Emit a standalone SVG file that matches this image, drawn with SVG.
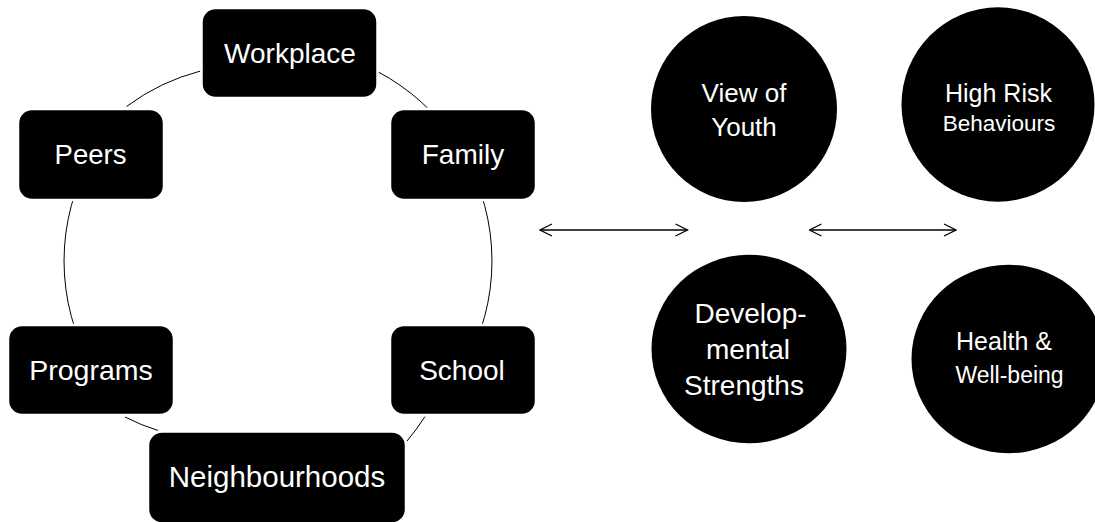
<svg xmlns="http://www.w3.org/2000/svg" width="1095" height="522" viewBox="0 0 1095 522">
<defs>
<style>
.box{fill:#000;stroke:#fff;stroke-width:2.5}
.blob{fill:#000}
.t{fill:#fff;font-family:"Liberation Sans",Arial,sans-serif;text-anchor:middle}
.ring{fill:none;stroke:#000;stroke-width:1}
.arr{fill:none;stroke:#000;stroke-width:1.3;marker-start:url(#ah);marker-end:url(#ah)}
</style>
<marker id="ah" viewBox="-13 -7 14 14" refX="0" refY="0" markerWidth="14" markerHeight="14" markerUnits="userSpaceOnUse" orient="auto-start-reverse">
<path d="M-12,-6 L0,0 L-12,6" fill="none" stroke="#000" stroke-width="1.3"/>
</marker>
</defs>
<rect width="1095" height="522" fill="#fff"/>
<g id="connectors">
<path class="ring" d="M289.2,47.3 A214,214 0 0 1 463.3,154"/>
<path class="ring" d="M463.3,154 A214,214 0 0 1 463.3,368"/>
<path class="ring" d="M425,416.5 A214,214 0 0 1 407,441"/>
<path class="ring" d="M158,430.5 A214,214 0 0 1 125,417"/>
<path class="ring" d="M92.7,368 A214,214 0 0 1 92.7,154"/>
<path class="ring" d="M126.5,106.5 A214,214 0 0 1 200.5,71"/>
<line class="arr" x1="540" y1="230" x2="687.5" y2="230"/>
<line class="arr" x1="809.5" y1="230" x2="956" y2="230"/>
</g>
<g id="workplace"><rect class="box" x="201.5" y="8" width="176" height="90" rx="14"/><text class="t" x="290" y="63" font-size="28">Workplace</text></g>
<g id="family"><rect class="box" x="390" y="109" width="146" height="91" rx="14"/><text class="t" x="463" y="163.5" font-size="28">Family</text></g>
<g id="school"><rect class="box" x="390" y="325" width="146" height="90" rx="14"/><text class="t" x="462" y="379.5" font-size="28">School</text></g>
<g id="neighbourhoods"><rect class="box" x="148" y="431.5" width="258" height="92" rx="14"/><text class="t" x="277" y="487" font-size="29.5">Neighbourhoods</text></g>
<g id="programs"><rect class="box" x="8" y="325" width="166" height="90" rx="14"/><text class="t" x="91" y="379.5" font-size="28.5">Programs</text></g>
<g id="peers"><rect class="box" x="18" y="109" width="146" height="91" rx="14"/><text class="t" x="90.5" y="163.5" font-size="27.5">Peers</text></g>
<g id="view-of-youth"><circle class="blob" cx="744" cy="109" r="93"/><text class="t" x="744" y="101.7" font-size="26">View of</text><text class="t" x="744" y="136" font-size="26">Youth</text></g>
<g id="high-risk"><ellipse class="blob" cx="998" cy="104.5" rx="96.5" ry="97.2"/><text class="t" x="998.5" y="101.7" font-size="25">High Risk</text><text class="t" x="999" y="131" font-size="22.5">Behaviours</text></g>
<g id="developmental"><ellipse class="blob" cx="749" cy="349" rx="97.5" ry="94.3"/><text class="t" x="750.5" y="323" font-size="28">Develop-</text><text class="t" x="748" y="359" font-size="28">mental</text><text class="t" x="744" y="395" font-size="28">Strengths</text></g>
<g id="health"><ellipse class="blob" cx="1008.5" cy="359" rx="97" ry="94.3"/><text class="t" x="1004" y="350" font-size="25">Health &amp;</text><text class="t" x="1009.5" y="383" font-size="23">Well-being</text></g>
</svg>
